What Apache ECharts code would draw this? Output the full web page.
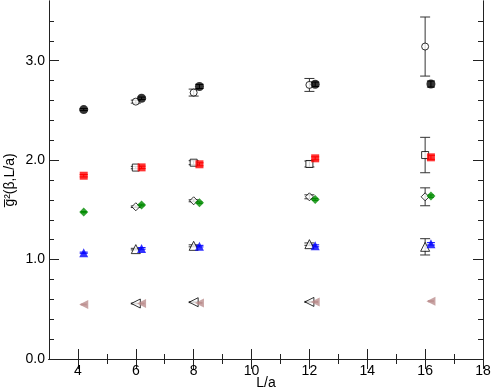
<!DOCTYPE html>
<html>
<head>
<meta charset="utf-8">
<script src="https://cdn.jsdelivr.net/npm/echarts@6/dist/echarts.min.js"></script>
<style>
  html, body { margin: 0; padding: 0; background: #fff; }
  #chart { width: 493px; height: 392px; }
</style>
</head>
<body>
<div id="chart"></div>
<script>
// tick positions / labels
const xTicks = [4, 6, 8, 10, 12, 14, 16, 18];
const xMinorTicks = [5, 7, 9, 11, 13, 15, 17];
const yTicks = [0, 1, 2, 3];
const yMinorTicks = [0.2, 0.4, 0.6, 0.8, 1.2, 1.4, 1.6, 1.8, 2.2, 2.4, 2.6, 2.8, 3.2, 3.4];

// L/a values: open symbols and filled symbols (shifted a bit to the right)
const xOpen = [6, 8, 12, 16];
const xFilled = [4.2, 6.2, 8.2, 12.2, 16.2];

// circles
const circleOpen = [2.588, 2.679, 2.756, 3.142];
const circleOpenErr = [0.015, 0.035, 0.065, 0.297];
const circleFilled = [2.508, 2.622, 2.740, 2.763, 2.765];
const circleFilledErr = [0.01, 0.012, 0.02, 0.022, 0.03];
// squares
const squareOpen = [1.925, 1.974, 1.961, 2.051];
const squareOpenErr = [0.012, 0.02, 0.03, 0.178];
const squareFilled = [1.843, 1.927, 1.958, 2.018, 2.028];
const squareFilledErr = [0.012, 0.012, 0.015, 0.015, 0.02];
// diamonds
const diamondOpen = [1.531, 1.591, 1.631, 1.631];
const diamondOpenErr = [0.008, 0.01, 0.02, 0.09];
const diamondFilled = [1.477, 1.548, 1.571, 1.605, 1.638];
const diamondFilledErr = [0.006, 0.008, 0.008, 0.01, 0.012];
// triangles
const triOpen = [1.105, 1.138, 1.155, 1.128];
const triOpenErr = [0.008, 0.01, 0.012, 0.082];
const triFilled = [1.069, 1.112, 1.135, 1.138, 1.158];
const triFilledErr = [0.006, 0.008, 0.008, 0.01, 0.012];
// left triangles
const leftOpen = [0.558, 0.571, 0.574];
const leftOpenErr = [0.004, 0.004, 0.005];
const leftFilled = [0.548, 0.558, 0.564, 0.574, 0.581];
const leftFilledErr = [0.004, 0.004, 0.004, 0.005, 0.005];

const FONT = 'Liberation Sans';
const FRAME = '#222';

function pts(xs, ys) {
  return ys.map((y, i) => [xs[i], y]);
}
function bars(xs, ys, es) {
  return ys.map((y, i) => [xs[i], y - es[i], y + es[i]]);
}

// error bar drawn as custom series
function errSeries(data, color, w) {
  return {
    type: 'custom',
    data: data,
    encode: { x: 0, y: [1, 2] },
    z: 2,
    renderItem: (params, api) => {
      const x = api.value(0);
      const lo = api.coord([x, api.value(1)]);
      const hi = api.coord([x, api.value(2)]);
      const st = { stroke: color, lineWidth: 1 };
      return {
        type: 'group',
        children: [
          { type: 'line', shape: { x1: lo[0], y1: lo[1], x2: hi[0], y2: hi[1] }, style: st },
          { type: 'line', shape: { x1: lo[0] - w, y1: lo[1], x2: lo[0] + w, y2: lo[1] }, style: st },
          { type: 'line', shape: { x1: hi[0] - w, y1: hi[1], x2: hi[0] + w, y2: hi[1] }, style: st }
        ]
      };
    }
  };
}

function openSeries(data, symbol, size, rotate) {
  return {
    type: 'scatter',
    data: data,
    symbol: symbol,
    symbolSize: size,
    symbolRotate: rotate || 0,
    z: 3,
    itemStyle: { color: '#fff', borderColor: '#000', borderWidth: 1 }
  };
}
function filledSeries(data, symbol, size, color, rotate) {
  return {
    type: 'scatter',
    data: data,
    symbol: symbol,
    symbolSize: size,
    symbolRotate: rotate || 0,
    z: 4,
    itemStyle: { color: color }
  };
}

// axis helper: one axis per tick set (major / minor), both sides
function xAx(pos, ticks, len, withLabel) {
  return {
    type: 'value', position: pos, min: 3, max: 18,
    axisLine: { show: true, lineStyle: { color: FRAME, width: 1 } },
    axisTick: { show: true, inside: true, length: len, customValues: ticks, lineStyle: { color: FRAME } },
    axisLabel: withLabel
      ? { show: true, customValues: ticks, margin: 5, color: '#000', fontFamily: FONT, fontSize: 14 }
      : { show: false },
    splitLine: { show: false },
    name: withLabel ? 'L/a' : '',
    nameLocation: 'middle',
    nameGap: 17,
    nameMoveOverlap: false,
    nameTextStyle: { color: '#000', fontFamily: FONT, fontSize: 14 }
  };
}
function yAx(pos, ticks, len, withLabel) {
  return {
    type: 'value', position: pos, min: 0, max: 3.6,
    axisLine: { show: true, lineStyle: { color: FRAME, width: 1 } },
    axisTick: { show: true, inside: true, length: len, customValues: ticks, lineStyle: { color: FRAME } },
    axisLabel: withLabel
      ? { show: true, customValues: ticks, margin: 4, color: '#000', fontFamily: FONT, fontSize: 14,
          formatter: v => v.toFixed(1) }
      : { show: false },
    splitLine: { show: false },
    name: withLabel ? 'g\u0305\u00B2(\u03B2,L/a)' : '',
    nameLocation: 'middle',
    nameGap: 32,
    nameMoveOverlap: false,
    nameTextStyle: { color: '#000', fontFamily: FONT, fontSize: 14 }
  };
}

const options = {
  animation: false,
  backgroundColor: '#fff',
  grid: { left: 49, right: 10, top: 1, bottom: 33, outerBoundsMode: 'none', containLabel: false },
  xAxis: [
    xAx('bottom', xTicks, 10, true),
    xAx('bottom', xMinorTicks, 5, false),
    xAx('top', xTicks, 10, false),
    xAx('top', xMinorTicks, 5, false)
  ],
  yAxis: [
    yAx('left', yTicks, 10, true),
    yAx('left', yMinorTicks, 5, false),
    yAx('right', yTicks, 10, false),
    yAx('right', yMinorTicks, 5, false)
  ],
  series: [
    errSeries(bars(xOpen, circleOpen, circleOpenErr), '#333', 5),
    errSeries(bars(xOpen, squareOpen, squareOpenErr), '#333', 5),
    errSeries(bars(xOpen, diamondOpen, diamondOpenErr), '#333', 5),
    errSeries(bars(xOpen, triOpen, triOpenErr), '#333', 5),
    errSeries(bars(xOpen, leftOpen, leftOpenErr), '#333', 5),
    openSeries(pts(xOpen, circleOpen), 'circle', 7),
    openSeries(pts(xOpen, squareOpen), 'rect', 7),
    openSeries(pts(xOpen, diamondOpen), 'diamond', 8),
    openSeries(pts(xOpen, triOpen), 'triangle', 9),
    openSeries(pts(xOpen, leftOpen), 'triangle', 9, 90),
    errSeries(bars(xFilled, circleFilled, circleFilledErr), '#000', 4),
    errSeries(bars(xFilled, squareFilled, squareFilledErr), '#ff0000', 4),
    errSeries(bars(xFilled, diamondFilled, diamondFilledErr), '#008b00', 3),
    errSeries(bars(xFilled, triFilled, triFilledErr), '#0000ff', 4),
    errSeries(bars(xFilled, leftFilled, leftFilledErr), '#bc8f8f', 3),
    filledSeries(pts(xFilled, circleFilled), 'circle', 9, '#000'),
    filledSeries(pts(xFilled, squareFilled), 'rect', 8, '#ff0000'),
    filledSeries(pts(xFilled, diamondFilled), 'diamond', 9, '#008b00'),
    filledSeries(pts(xFilled, triFilled), 'triangle', 9, '#0000ff'),
    filledSeries(pts(xFilled, leftFilled), 'triangle', 9, '#bc8f8f', 90)
  ]
};

const chart = echarts.init(document.getElementById('chart'));
chart.setOption(options);
</script>
</body>
</html>
